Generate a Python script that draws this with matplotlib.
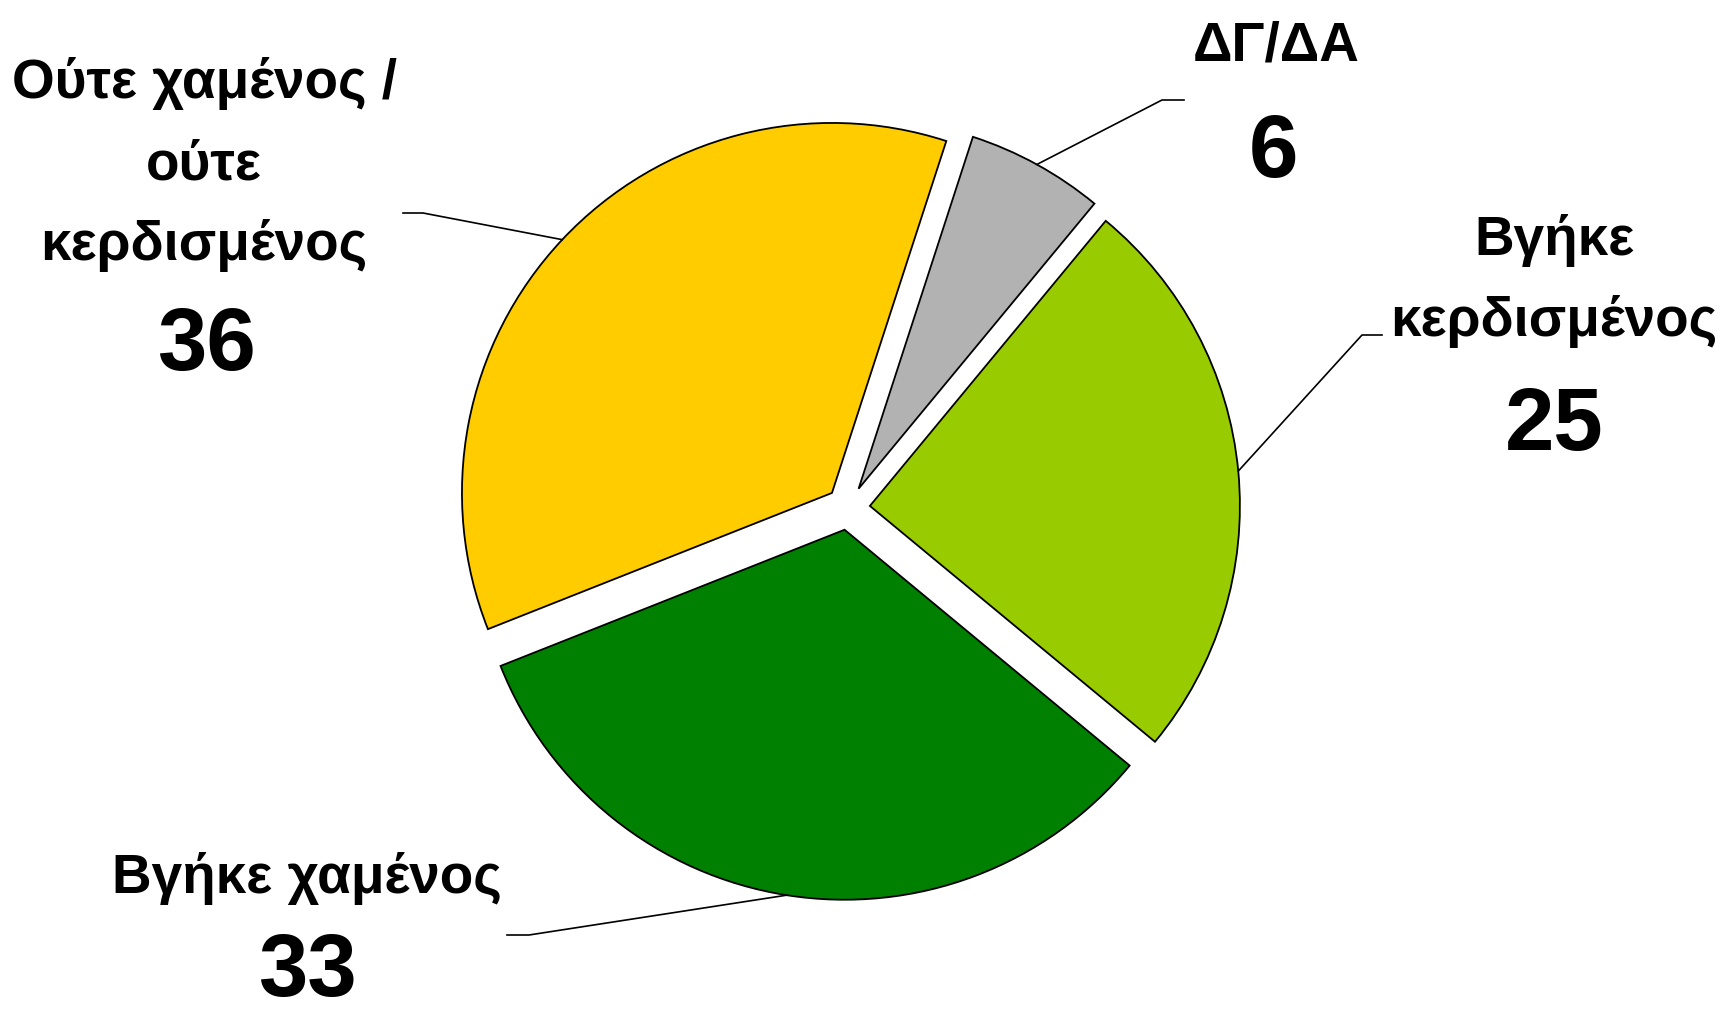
import numpy as np
import matplotlib
matplotlib.use("Agg")
import matplotlib.pyplot as plt

W, H = 1722, 1014

labels = ["ΔΓ/ΔΑ", "Βγήκε\nκερδισμένος", "Βγήκε χαμένος", "Ούτε χαμένος /\nούτε\nκερδισμένος"]
values = [6, 25, 33, 36]
colors = ["#B2B2B2", "#99CC00", "#008000", "#FFCC00"]

# label anchors in pixel coords (top-left origin): baseline of first name line, value baseline
name_pos = [(1276, 60), (1554, 255), (307, 893), (204, 98)]
value_pos = [(1274, 177), (1554, 450), (307, 996), (206, 370)]
LINE_GAP = 81
# leader line: elbow point and end of horizontal tick
elbows = [((1162, 100), (1184, 100)), ((1362, 335), (1382, 335)),
          ((529, 935), (507, 935)), ((423, 213), (403, 213))]

plt.rcParams["font.family"] = ["Liberation Sans Narrow", "Liberation Sans", "DejaVu Sans"]

fig = plt.figure(figsize=(W / 100, H / 100), dpi=100)
ax = fig.add_axes([0, 0, 1, 1])

cx, cy, R, ex = 848, H - 508, 370, 22
start = 72
wedges, _ = ax.pie(values, colors=colors, startangle=start, counterclock=False,
                   radius=R, center=(cx, cy), explode=[ex] * len(values),
                   wedgeprops=dict(edgecolor="black", linewidth=1.3))

ax.set_xlim(0, W)
ax.set_ylim(0, H)
ax.set_aspect("equal")
ax.axis("off")

total = sum(values)
acc = 0
for i, v in enumerate(values):
    a1 = start - 360 * acc / total
    acc += v
    a2 = start - 360 * acc / total
    mid = np.deg2rad((a1 + a2) / 2)
    x0 = cx + (ex + R) * np.cos(mid)
    y0 = cy + (ex + R) * np.sin(mid)
    (ex1, ey1), (ex2, ey2) = elbows[i]
    ax.plot([x0, ex1, ex2], [y0, H - ey1, H - ey2], color="black", lw=1.2)

    nx, ny = name_pos[i]
    for k, line in enumerate(labels[i].split("\n")):
        ax.text(nx, H - ny - LINE_GAP * k, line, ha="center", va="baseline",
                fontsize=39.5, fontweight="bold")
    vx, vy = value_pos[i]
    ax.text(vx, H - vy, str(v), ha="center", va="baseline",
            fontsize=64, fontweight="bold")

fig.savefig("out.png", dpi=100)
